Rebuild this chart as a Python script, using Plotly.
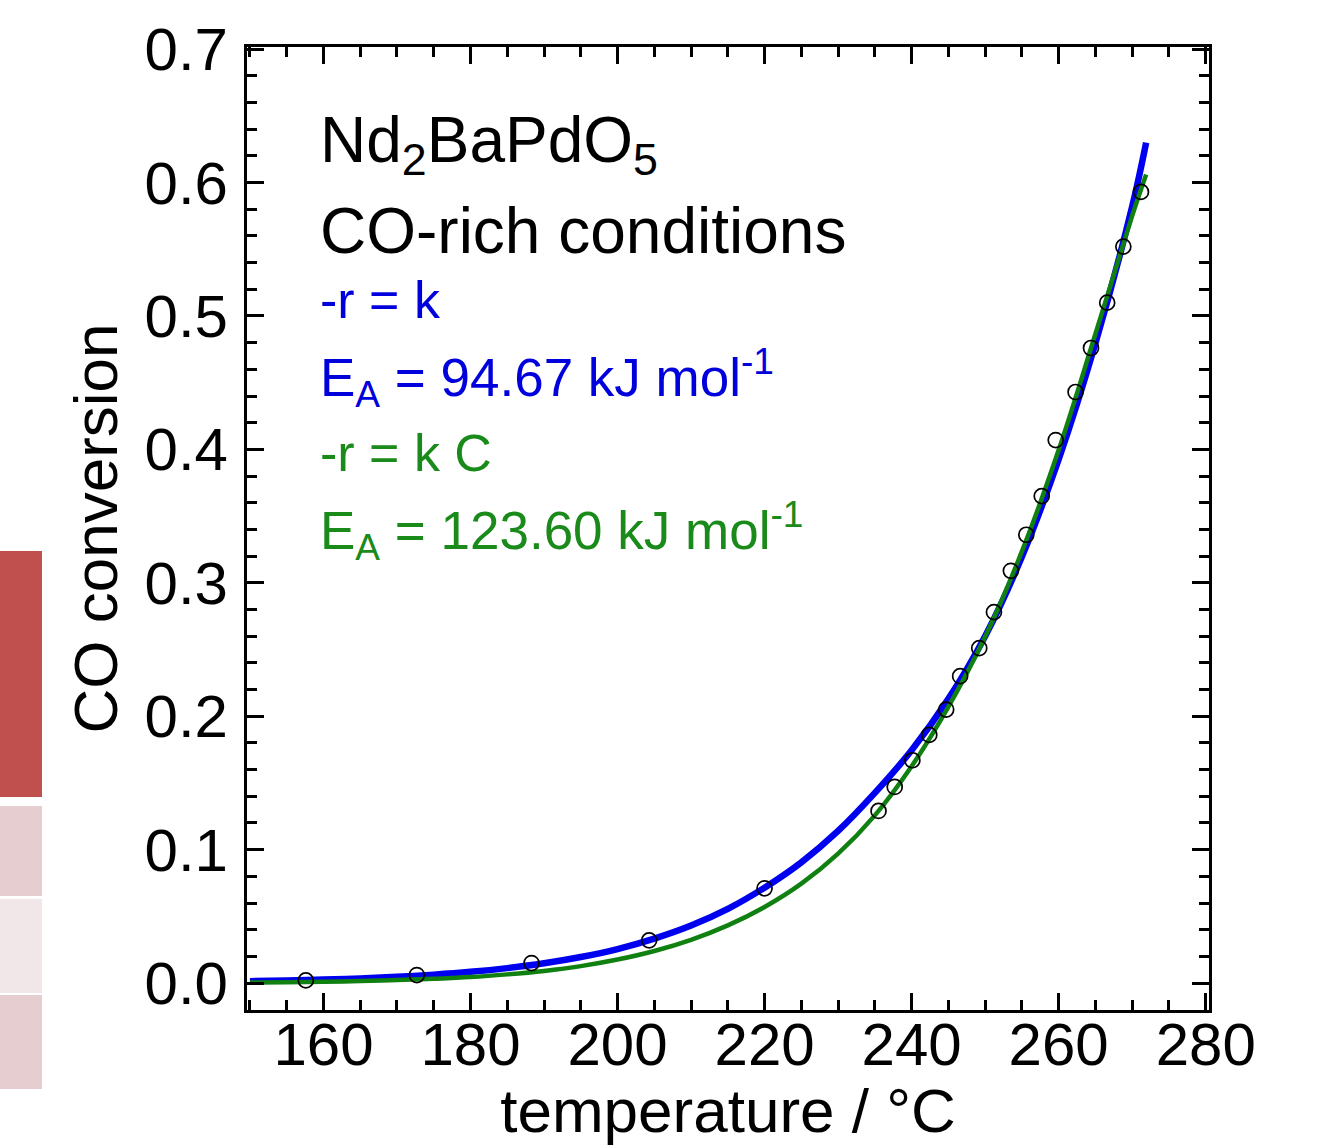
import plotly.graph_objects as go

# ---------------- data ----------------
temp_meas = [157.6, 172.7, 188.3, 204.3, 220.0, 235.5, 237.7, 240.1, 242.4, 244.7,
             246.6, 249.2, 251.2, 253.5, 255.6, 257.7, 259.6, 262.3, 264.4, 266.6,
             268.8, 271.2]
conv_meas = [0.002, 0.006, 0.015, 0.032, 0.071, 0.129, 0.147, 0.167, 0.186, 0.205,
             0.230, 0.251, 0.278, 0.309, 0.336, 0.365, 0.407, 0.443, 0.476, 0.510,
             0.552, 0.593]

temp_fit = [150, 155, 160, 165, 170, 175, 180, 185, 190, 195, 200, 205, 210, 215,
            220, 225, 230, 235, 240, 245, 250, 255, 260, 265, 270, 271.9]
conv_zero_order = [0.0014, 0.0019, 0.0026, 0.0035, 0.0047, 0.0063, 0.0084, 0.0112,
                   0.0148, 0.0195, 0.0255, 0.0333, 0.0431, 0.0556, 0.0715, 0.0905,
                   0.1140, 0.1425, 0.1745, 0.2130, 0.2600, 0.3195, 0.3925, 0.4795,
                   0.5820, 0.6300]
conv_first_order = [0.00044, 0.00067, 0.0010, 0.0015, 0.0022, 0.0032, 0.0045, 0.0065,
                    0.0091, 0.0127, 0.0176, 0.0240, 0.0324, 0.0432, 0.0570, 0.0745,
                    0.0970, 0.1257, 0.1625, 0.2070, 0.2595, 0.3235, 0.3995, 0.4865,
                    0.5750, 0.6060]

x_range = [149.6, 280.45]
y_range = [-0.0202, 0.7016]

# ---------------- layout geometry ----------------
W, H = 1330, 1145
L, R, T, B = 247, 1209, 47, 1010
PW, PH = R - L, B - T


def fx(px):
    return (px - L) / PW


def fy(py):
    return (B - py) / PH


FONT = "Arial, Liberation Sans, sans-serif"
BLUE_LINE = "#0000F0"
GREEN_LINE = "#108010"
BLUE_TXT = "#0000DD"
GREEN_TXT = "#1A8A1A"

fig = go.Figure()
fig.add_trace(go.Scatter(x=temp_fit, y=conv_zero_order, mode="lines",
                         line=dict(color=BLUE_LINE, width=6.5, shape="spline"),
                         showlegend=False, hoverinfo="skip"))
fig.add_trace(go.Scatter(x=temp_fit, y=conv_first_order, mode="lines",
                         line=dict(color=GREEN_LINE, width=4.5, shape="spline"),
                         showlegend=False, hoverinfo="skip"))
fig.add_trace(go.Scatter(x=temp_meas, y=conv_meas, mode="markers",
                         marker=dict(symbol="circle-open", size=15,
                                     color="black", line=dict(width=1.7, color="black")),
                         showlegend=False))

axis_common = dict(
    showline=True, linecolor="black", linewidth=3, mirror="ticks",
    ticks="inside", tickcolor="black", tickwidth=3, ticklen=17,
    showgrid=False, zeroline=False,
    tickfont=dict(family=FONT, size=60, color="black"),
)

fig.update_xaxes(
    range=x_range, tickmode="linear", tick0=160, dtick=20,
    minor=dict(ticks="inside", dtick=5, tick0=150, ticklen=10, tickwidth=3,
               tickcolor="black", showgrid=False),
    title=dict(text="temperature / °C", font=dict(family=FONT, size=62, color="black"),
               standoff=20),
    ticklabelstandoff=-20,
    **axis_common,
)
fig.update_yaxes(
    range=y_range, tickmode="linear", tick0=0, dtick=0.1, tickformat=".1f",
    minor=dict(ticks="inside", dtick=0.02, tick0=0, ticklen=10, tickwidth=3,
               tickcolor="black", showgrid=False),
    title=dict(text="CO conversion", font=dict(family=FONT, size=62, color="black"),
               standoff=7),
    ticklabelstandoff=4,
    **axis_common,
)

# decorative slide blocks at the left edge
blocks = [(551, 797, "#C0504D"), (806, 896, "#E6CED0"),
          (899, 993, "#F2E7E8"), (995, 1089, "#E6CED0")]
shapes = []
for y0, y1, col in blocks:
    shapes.append(dict(type="rect", xref="paper", yref="paper",
                       x0=fx(0), x1=fx(42), y0=fy(y1), y1=fy(y0),
                       fillcolor=col, line=dict(width=0), layer="above"))

notes = [
    ("Nd<sub>2</sub>BaPdO<sub>5</sub>", 144, 64, "black"),
    ("CO-rich conditions", 231, 64, "black"),
    ("-r = k", 300, 52, BLUE_TXT),
    ("E<sub>A</sub> = 94.67 kJ mol<sup>-1</sup>", 377, 53, BLUE_TXT),
    ("-r = k C", 453, 52, GREEN_TXT),
    ("E<sub>A</sub> = 123.60 kJ mol<sup>-1</sup>", 530, 53, GREEN_TXT),
]
annotations = []
for txt, yc, size, col in notes:
    annotations.append(dict(text=txt, xref="paper", yref="paper",
                            x=fx(318), y=fy(yc), xanchor="left", yanchor="middle",
                            showarrow=False, align="left",
                            font=dict(family=FONT, size=size, color=col)))

fig.update_layout(
    width=W, height=H,
    margin=dict(l=L, r=W - R, t=T, b=H - B, autoexpand=False),
    paper_bgcolor="white", plot_bgcolor="white",
    shapes=shapes, annotations=annotations,
    showlegend=False,
)

fig.write_html("out.html")
